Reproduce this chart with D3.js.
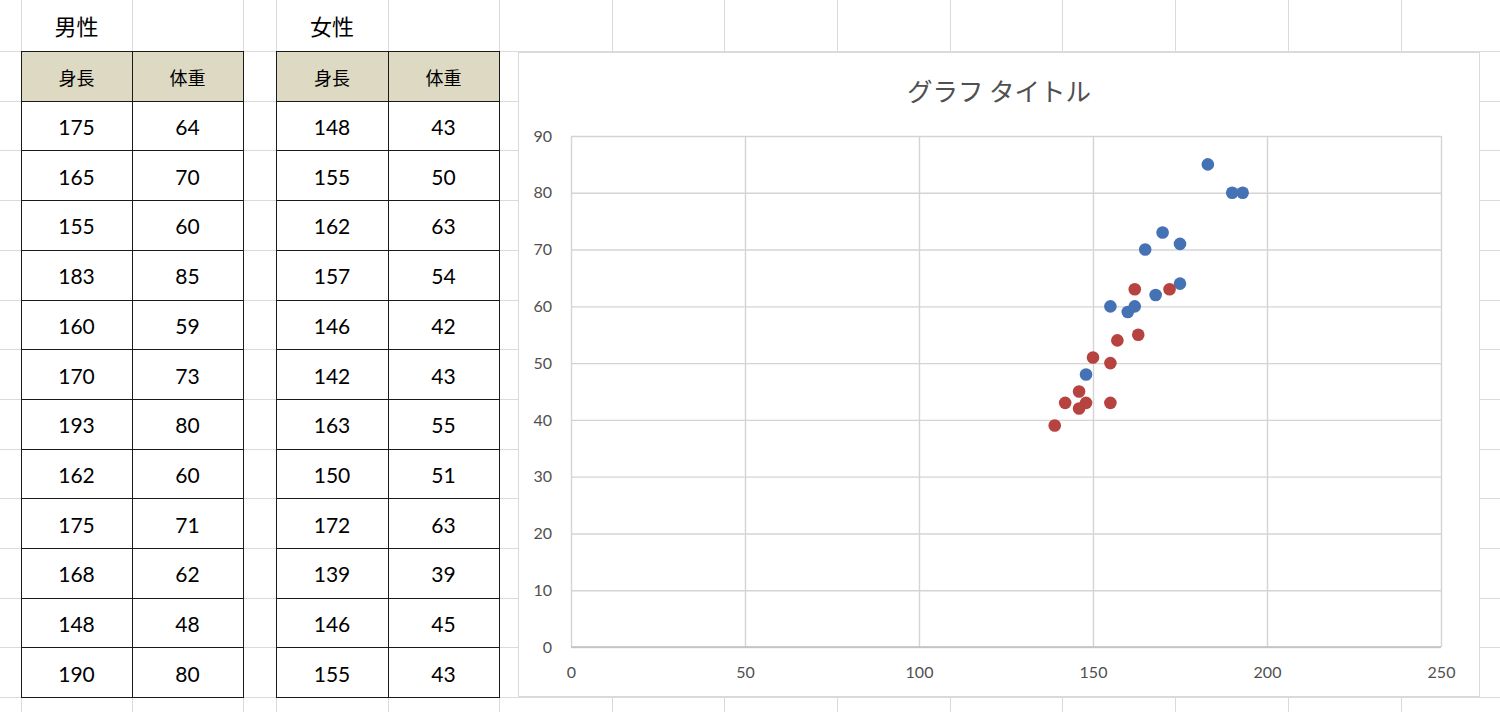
<!DOCTYPE html>
<html>
<head>
<meta charset="utf-8">
<script src="https://cdn.jsdelivr.net/npm/d3@7"></script>
<style>
  html, body { margin: 0; padding: 0; background: #fff; overflow: hidden; }
  svg { display: block; }
</style>
</head>
<body>
<div id="sheet"></div>
<script>
var maleHeight = [175, 165, 155, 183, 160, 170, 193, 162, 175, 168, 148, 190];
var maleWeight = [64, 70, 60, 85, 59, 73, 80, 60, 71, 62, 48, 80];
var femaleHeight = [148, 155, 162, 157, 146, 142, 163, 150, 172, 139, 146, 155];
var femaleWeight = [43, 50, 63, 54, 42, 43, 55, 51, 63, 39, 45, 43];
var tableTitles = ["男性", "女性"];
var colHeaders = ["身長", "体重"];
var chartTitle = "グラフ タイトル";
var xTicks = [0, 50, 100, 150, 200, 250];
var yTicks = [0, 10, 20, 30, 40, 50, 60, 70, 80, 90];

var W = 1500, H = 712;
var svg = d3.select("#sheet").append("svg")
	.attr("width", W)
	.attr("height", H);

var numFont = "Lato, 'Noto Sans', sans-serif",
	jpFont = "'Noto Sans CJK JP', 'Noto Sans', sans-serif";

///////////////////////// spreadsheet grid /////////////////////////
var colEdges = [21, 132, 243, 276, 388, 499, 612, 724, 837, 950, 1062, 1175, 1288, 1401, 1513];
var rowEdges = d3.range(0, 15).map(function(i) { return i == 0 ? 0 : 51 + (i - 1) * 49.7; });

var grid = svg.append("g").attr("class", "grid");
grid.selectAll("line.col").data(colEdges).enter().append("line")
	.attr("x1", function(d) { return d + 0.5; })
	.attr("x2", function(d) { return d + 0.5; })
	.attr("y1", 0).attr("y2", H)
	.style("stroke", "#dadada").style("stroke-width", 1);
grid.selectAll("line.row").data(rowEdges.slice(1)).enter().append("line")
	.attr("x1", 0).attr("x2", W)
	.attr("y1", function(d) { return Math.round(d) + 0.5; })
	.attr("y2", function(d) { return Math.round(d) + 0.5; })
	.style("stroke", "#dadada").style("stroke-width", 1);

///////////////////////// the two tables /////////////////////////
function drawTable(x0, x1, x2, title, heights, weights) {
	var g = svg.append("g");
	var top = rowEdges[1], rh = 49.7;
	var n = heights.length;

	g.append("text")
		.attr("x", (x0 + x1) / 2).attr("y", 25)
		.attr("text-anchor", "middle").attr("dominant-baseline", "central")
		.style("font-family", jpFont).style("font-size", "22px").style("fill", "#000")
		.text(title);

	g.append("rect")
		.attr("x", x0 + 0.5).attr("y", Math.round(top) + 0.5)
		.attr("width", x2 - x0).attr("height", rh)
		.style("fill", "#ddd9c3");

	[x0, x1].forEach(function(cx, j) {
		var cw = j == 0 ? x1 - x0 : x2 - x1;
		g.append("text")
			.attr("x", cx + cw / 2).attr("y", top + rh / 2 + 1)
			.attr("text-anchor", "middle").attr("dominant-baseline", "central")
			.style("font-family", jpFont).style("font-size", "18px").style("fill", "#000")
			.text(colHeaders[j]);
	});

	var rows = heights.map(function(h, i) { return [h, weights[i]]; });
	rows.forEach(function(r, i) {
		var cy = top + rh * (i + 1) + rh / 2;
		g.append("text")
			.attr("x", (x0 + x1) / 2).attr("y", cy + 1)
			.attr("text-anchor", "middle").attr("dominant-baseline", "central")
			.style("font-family", numFont).style("font-size", "21px").style("fill", "#000")
			.text(r[0]);
		g.append("text")
			.attr("x", (x1 + x2) / 2).attr("y", cy + 1)
			.attr("text-anchor", "middle").attr("dominant-baseline", "central")
			.style("font-family", numFont).style("font-size", "21px").style("fill", "#000")
			.text(r[1]);
	});

	//borders
	var bottom = top + rh * (n + 1);
	[x0, x1, x2].forEach(function(x) {
		g.append("line")
			.attr("x1", x + 0.5).attr("x2", x + 0.5)
			.attr("y1", Math.round(top)).attr("y2", Math.round(bottom) + 1)
			.style("stroke", "#1a1a1a");
	});
	d3.range(0, n + 2).forEach(function(i) {
		var y = Math.round(top + rh * i) + 0.5;
		g.append("line")
			.attr("x1", x0).attr("x2", x2 + 1)
			.attr("y1", y).attr("y2", y)
			.style("stroke", "#1a1a1a");
	});
}

drawTable(colEdges[0], colEdges[1], colEdges[2], tableTitles[0], maleHeight, maleWeight);
drawTable(colEdges[3], colEdges[4], colEdges[5], tableTitles[1], femaleHeight, femaleWeight);

///////////////////////// chart /////////////////////////
var chart = svg.append("g").attr("class", "chart");
chart.append("rect")
	.attr("x", 518.5).attr("y", 52.5)
	.attr("width", 961).attr("height", 644)
	.style("fill", "#fff")
	.style("stroke", "#d9d9d9").style("stroke-width", 1);

chart.append("text")
	.attr("x", 999).attr("y", 89)
	.attr("text-anchor", "middle").attr("dominant-baseline", "central")
	.style("font-family", jpFont).style("font-size", "25.5px").style("fill", "#505050")
	.text(chartTitle);

var plot = { left: 571, right: 1441, top: 136, bottom: 647 };
var xScale = d3.scaleLinear().domain([0, 250]).range([plot.left, plot.right]);
var yScale = d3.scaleLinear().domain([0, 90]).range([plot.bottom, plot.top]);

//gridlines
chart.append("g")
	.attr("transform", "translate(0," + plot.bottom + ")")
	.call(d3.axisBottom(xScale).tickValues(xTicks).tickSize(-(plot.bottom - plot.top)).tickFormat(""))
	.call(function(g) {
		g.select(".domain").remove();
		g.selectAll(".tick line").style("stroke", "#d4d4d4").style("stroke-width", 1.4);
	});
chart.append("g")
	.attr("transform", "translate(" + plot.left + ",0)")
	.call(d3.axisLeft(yScale).tickValues(yTicks).tickSize(-(plot.right - plot.left)).tickFormat(""))
	.call(function(g) {
		g.select(".domain").remove();
		g.selectAll(".tick line").style("stroke", "#d4d4d4").style("stroke-width", 1.4);
	});

//axis line at y = 0
chart.append("line")
	.attr("x1", plot.left).attr("x2", plot.right)
	.attr("y1", yScale(0)).attr("y2", yScale(0))
	.style("stroke", "#bfbfbf").style("stroke-width", 1.4);

//tick labels
chart.append("g")
	.attr("transform", "translate(0," + plot.bottom + ")")
	.call(d3.axisBottom(xScale).tickValues(xTicks).tickSize(0).tickPadding(20))
	.call(function(g) {
		g.select(".domain").remove();
		g.selectAll("text").style("font-family", numFont).style("font-size", "16px").style("fill", "#505050");
	});
chart.append("g")
	.attr("transform", "translate(" + plot.left + ",0)")
	.call(d3.axisLeft(yScale).tickValues(yTicks).tickSize(0).tickPadding(19))
	.call(function(g) {
		g.select(".domain").remove();
		g.selectAll("text").style("font-family", numFont).style("font-size", "16px").style("fill", "#505050");
	});

//points
var male = maleHeight.map(function(h, i) { return { x: h, y: maleWeight[i] }; });
var female = femaleHeight.map(function(h, i) { return { x: h, y: femaleWeight[i] }; });

chart.append("g").selectAll("circle")
	.data(male).enter().append("circle")
	.attr("cx", function(d) { return xScale(d.x); })
	.attr("cy", function(d) { return yScale(d.y); })
	.attr("r", 6.3)
	.style("fill", "#4472b4");

chart.append("g").selectAll("circle")
	.data(female).enter().append("circle")
	.attr("cx", function(d) { return xScale(d.x); })
	.attr("cy", function(d) { return yScale(d.y); })
	.attr("r", 6.3)
	.style("fill", "#b6433f");
</script>
</body>
</html>
